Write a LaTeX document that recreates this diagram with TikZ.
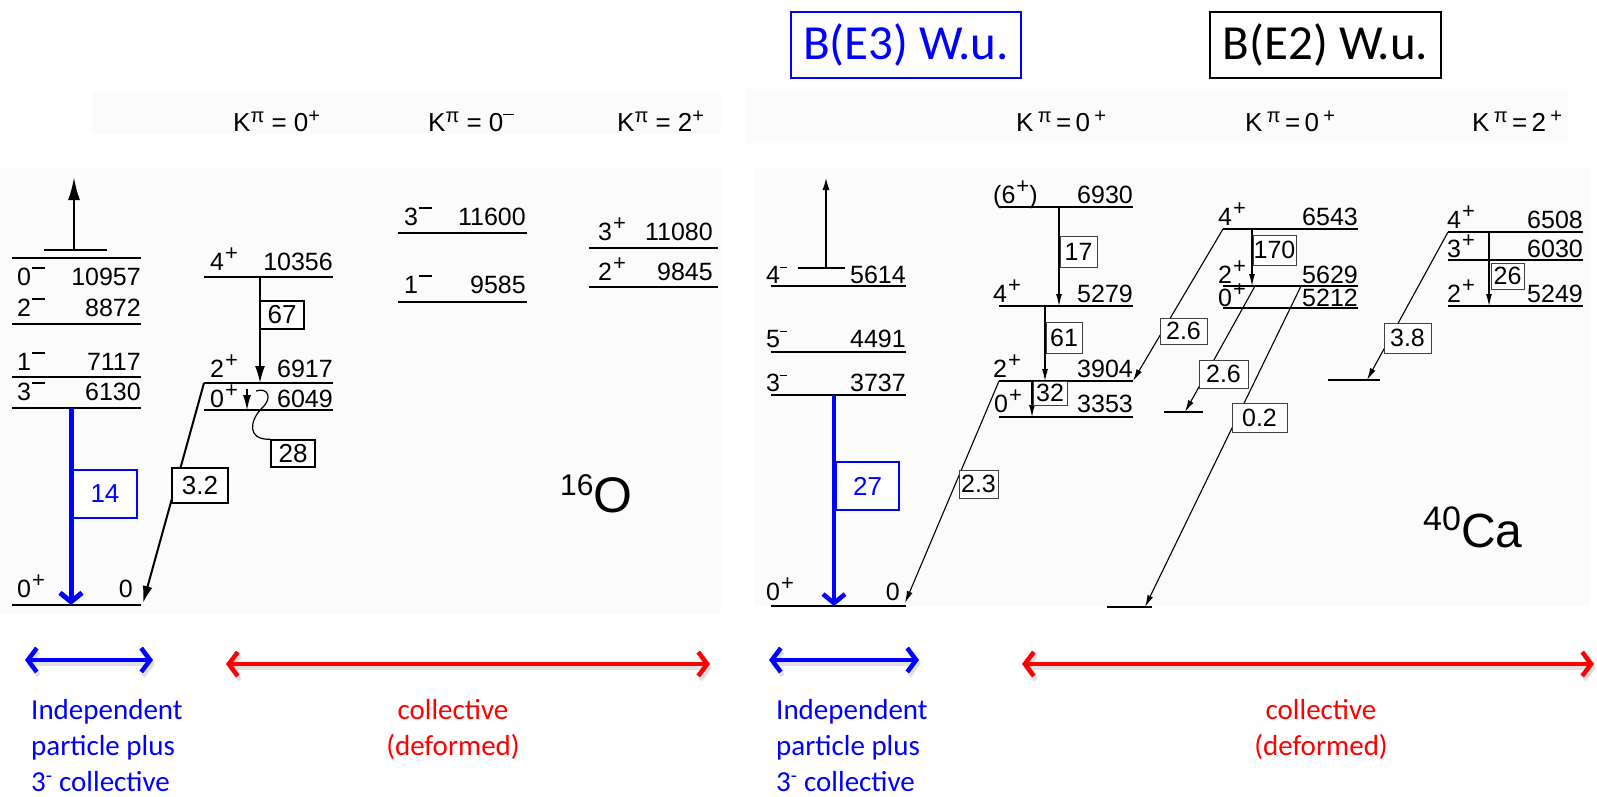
\documentclass[tikz,border=0pt]{standalone}
\usepackage{fontspec}
\setmainfont{Liberation Sans}
\newfontfamily\calib{Carlito}
\usetikzlibrary{arrows.meta,calc}
\definecolor{panel}{RGB}{251,251,251}
\newcommand\pl{\kern1pt\raisebox{10pt}{\fontsize{22}{22}\selectfont+}}
\newcommand\mn{\kern1pt\rule[16pt]{13pt}{1.6pt}}
\newcommand\smn{\rule[15pt]{7pt}{1.4pt}}
\newcommand\hsp[1]{\raisebox{9pt}{\fontsize{20}{20}\selectfont #1}}
\newcommand\Lv[5][lvlA]{\coordinate (#2-l) at (#3,#5);\coordinate (#2-r) at (#4,#5);\draw[#1] (#2-l) -- (#2-r);}
\newcommand\LL[4]{\node[lab,anchor=base west] (#1) at (#2,#3) {#4};}
\newcommand\LR[4]{\node[lab,anchor=base east] (#1) at (#2,#3) {#4};}
\tikzset{
 lvlA/.style={line width=2.6pt},
 lvlB/.style={line width=2pt},
 trA/.style={line width=2pt,-{Latex[length=17pt,width=10pt]}},
 trB/.style={line width=1.1pt,-{Latex[length=12pt,width=6pt]}},
 upA/.style={line width=2.4pt,-{Latex[length=23pt,width=12pt]}},
 upB/.style={line width=1.4pt,-{Latex[length=12pt,width=7pt]}},
 eth/.style={blue,line width=5pt,-{Straight Barb[length=9pt,width=22pt]}},
 lab/.style={font=\fontsize{25}{28}\selectfont,inner sep=0pt},
 hdr/.style={font=\fontsize{26}{28}\selectfont,inner sep=0pt},
 bxA/.style={draw,line width=1.5pt,fill=white,font=\fontsize{26}{28}\selectfont,inner sep=0pt},
 bxB/.style={draw=black!75,line width=1pt,fill=white,font=\fontsize{25}{28}\selectfont,inner sep=0pt},
 bxE/.style={draw=blue,line width=1.5pt,fill=white,text=blue,font=\fontsize{26}{28}\selectfont,inner sep=0pt},
 rangearr/.style={line width=4.5pt,{Straight Barb[length=9pt,width=24pt]}-{Straight Barb[length=9pt,width=24pt]}},
 shad/.style={rangearr,draw=black,opacity=0.12},
 bot/.style={font=\calib\fontsize{29}{36}\selectfont,align=left,inner sep=0pt},
}
\begin{document}
\begin{tikzpicture}[x=1pt,y=-1pt]
\useasboundingbox (0,0) rectangle (1597,796);
\fill[white] (0,0) rectangle (1597,796);
% panels
\fill[panel] (92,92) rectangle (721,134);
\fill[panel] (0,168) rectangle (721,614);
\fill[panel] (745,89) rectangle (1568,143);
\fill[panel] (755,168) rectangle (1590,606);

% header boxes
\node[draw=blue,line width=1.5pt,minimum width=230pt,minimum height=66pt,text=blue,font=\calib\fontsize{49}{50}\selectfont] (be3) at (906,45) {B(E3) W.u.};
\node[draw,line width=2pt,minimum width=231pt,minimum height=66pt,font=\calib\fontsize{49}{50}\selectfont] (be2) at (1325.5,45) {B(E2) W.u.};

% K headers
\node[hdr,anchor=base west] (ka1) at (233,131) {K\hsp{π} = 0\hsp{+}};
\node[hdr,anchor=base west] (ka2) at (428,131) {K\hsp{π} = 0\hsp{\rule[7pt]{11pt}{1.5pt}}};
\node[hdr,anchor=base west] (ka3) at (617,131) {K\hsp{π} = 2\hsp{+}};
\node[hdr,anchor=base west] (kb1) at (1016,131) {K\,\hsp{π}\,=\,0\,\hsp{+}};
\node[hdr,anchor=base west] (kb2) at (1245,131) {K\,\hsp{π}\,=\,0\,\hsp{+}};
\node[hdr,anchor=base west] (kb3) at (1472,131) {K\,\hsp{π}\,=\,2\,\hsp{+}};

% ---------- 16O levels
\Lv{g16}{12}{141}{605}
\Lv{s6130}{12}{141}{408}
\Lv{s7117}{12}{141}{377}
\Lv{s8872}{12}{141}{324}
\Lv{s10957}{12}{141}{258}
\Lv{bar16}{44}{107}{250}
\Lv{b10356}{204}{333}{277}
\Lv{b6917}{204}{333}{383}
\Lv{b6049}{204}{333}{410}
\Lv{c11600}{398}{527}{233}
\Lv{c9585}{398}{527}{302}
\Lv{d11080}{589}{718}{248}
\Lv{d9845}{589}{718}{287}

\LL{j10957}{17}{285}{0\mn} \LR{n10957}{141}{285}{10957}
\LL{j8872}{17}{316}{2\mn} \LR{n8872}{141}{316}{8872}
\LL{j7117}{17}{370}{1\mn} \LR{n7117}{141}{370}{7117}
\LL{j6130}{17}{400}{3\mn} \LR{n6130}{141}{400}{6130}
\LL{j0a}{17}{597}{0\pl} \LR{n0a}{133}{597}{0}
\LL{j10356}{210}{270}{4\pl} \LR{n10356}{333}{270}{10356}
\LL{j6917}{210}{377}{2\pl} \LR{n6917}{333}{377}{6917}
\LL{j6049}{210}{407}{0\pl} \LR{n6049}{333}{407}{6049}
\LL{j11600}{404}{225}{3\mn} \LR{n11600}{526}{225}{11600}
\LL{j9585}{404}{293}{1\mn} \LR{n9585}{526}{293}{9585}
\LL{j11080}{598}{240}{3\pl} \LR{n11080}{713}{240}{11080}
\LL{j9845}{598}{280}{2\pl} \LR{n9845}{713}{280}{9845}

% 16O transitions
\coordinate (up16) at (74,177);
\draw[upA] (74,0 |- bar16-l) -- (up16);
\draw[trA] (260,0 |- b10356-l) -- (260,0 |- b6917-l);
\draw[trA] (b6917-l) -- ($(g16-r)+(2,-2)$);
\draw[eth] (71,0 |- s6130-l) -- (71,0 |- g16-l);
\coordinate (sa) at (247,389);
\draw[line width=1.2pt,-{Latex[length=15pt,width=8pt]}] (sa) -- (247,0 |- b6049-l);
\node[bxA,minimum width=44pt,minimum height=28pt] (x67) at (282,315) {67};
\node[bxA,minimum width=44pt,minimum height=27pt] (x28) at (293,453.5) {28};
\node[bxA,minimum width=56pt,minimum height=35pt] (x32) at (200,485.5) {3.2};
\node[bxE,minimum width=64pt,minimum height=48pt] (x14) at (105,494) {14};
\draw[line width=1.2pt] (256,391) .. controls (268,387) and (273,398) .. (262,408) .. controls (250,420) and (246,440) .. (x28.north west);

\node[anchor=base west,inner sep=0pt] (o16) at (560,512) {\raisebox{17pt}{\fontsize{30}{30}\selectfont 16}\fontsize{50}{52}\selectfont O};

% ---------- 40Ca levels
\Lv[lvlB]{g40}{771}{906}{606}
\Lv[lvlB]{s3737}{771}{906}{395}
\Lv[lvlB]{s4491}{771}{906}{352}
\Lv[lvlB]{s5614}{771}{906}{286}
\Lv[line width=1.5pt]{bar40}{798}{845}{268}
\Lv[lvlB]{e6930}{999}{1133}{207}
\Lv[lvlB]{e5279}{999}{1133}{306}
\Lv[lvlB]{e3904}{999}{1133}{381}
\Lv[lvlB]{e3353}{999}{1133}{417}
\Lv[lvlB]{f6543}{1223}{1358}{229}
\Lv[lvlB]{f5629}{1223}{1358}{286}
\Lv[lvlB]{f5212}{1223}{1358}{308}
\Lv[lvlB]{h6508}{1448}{1583}{232}
\Lv[lvlB]{h6030}{1448}{1583}{260}
\Lv[lvlB]{h5249}{1448}{1583}{306}
\Lv[lvlB]{t1}{1164}{1203}{412}
\Lv[lvlB]{t2}{1107}{1152}{607}
\Lv[lvlB]{t3}{1328}{1380}{380}

\LL{k5614}{766}{283}{4\smn} \LR{m5614}{906}{283}{5614}
\LL{k4491}{766}{347}{5\smn} \LR{m4491}{906}{347}{4491}
\LL{k3737}{766}{391}{3\smn} \LR{m3737}{906}{391}{3737}
\LL{k0b}{766}{600}{0\pl} \LR{m0b}{900}{600}{0}
\LL{k6930}{993}{203}{(6\pl)} \LR{m6930}{1133}{203}{6930}
\LL{k5279}{993}{302}{4\pl} \LR{m5279}{1133}{302}{5279}
\LL{k3904}{993}{377}{2\pl} \LR{m3904}{1133}{377}{3904}
\LL{k3353}{994}{412}{0\pl} \LR{m3353}{1133}{412}{3353}
\LL{k6543}{1218}{225}{4\pl} \LR{m6543}{1358}{225}{6543}
\LL{k5629}{1218}{283}{2\pl} \LR{m5629}{1358}{283}{5629}
\LL{k5212}{1218}{306}{0\pl} \LR{m5212}{1358}{306}{5212}
\LL{k6508}{1447}{228}{4\pl} \LR{m6508}{1583}{228}{6508}
\LL{k6030}{1447}{257}{3\pl} \LR{m6030}{1583}{257}{6030}
\LL{k5249}{1447}{302}{2\pl} \LR{m5249}{1583}{302}{5249}

% 40Ca transitions
\coordinate (up40) at (826,178);
\draw[upB] (826,0 |- bar40-l) -- (up40);
\draw[eth,line width=4.5pt] (834,0 |- s3737-l) -- (834,0 |- g40-l);
\draw[trB] (e3904-l) -- ($(g40-r)+(-1,-3)$);
\draw[trB] (1059,0 |- e6930-l) -- (1059,0 |- e5279-l);
\draw[trB] (1045,0 |- e5279-l) -- (1045,0 |- e3904-l);
\draw[trB] (1032,0 |- e3904-l) -- (1032,0 |- e3353-l);
\draw[trB] (1252,0 |- f6543-l) -- (1252,0 |- f5629-l);
\draw[trB] (f6543-l) -- (e3904-r);
\draw[trB] (1255,0 |- f5629-l) -- (1185,0 |- t1-l);
\draw[trB] (1301,0 |- f5629-l) -- (1145,0 |- t2-l);
\draw[trB] (1489,0 |- h6508-l) -- (1489,0 |- h5249-l);
\draw[trB] (h6508-l) -- (1367,0 |- t3-l);

\node[bxE,minimum width=63pt,minimum height=48pt] (x27) at (867.5,486) {27};
\node[bxB,minimum width=39pt,minimum height=28pt] (x23) at (978.5,484) {2.3};
\node[bxB,minimum width=37pt,minimum height=31pt] (x17) at (1078.5,251.5) {17};
\node[bxB,minimum width=36pt,minimum height=31pt] (x61) at (1064,337.5) {61};
\node[bxB,minimum width=34pt,minimum height=24pt] (x32b) at (1050,393) {32};
\node[bxB,minimum width=43pt,minimum height=30pt] (x170) at (1274.5,250) {170};
\node[bxB,minimum width=47pt,minimum height=26pt] (x26a) at (1183.5,331) {2.6};
\node[bxB,minimum width=49pt,minimum height=28pt] (x26b) at (1223.5,374) {2.6};
\node[bxB,minimum width=55pt,minimum height=29pt] (x02) at (1259.5,417.5) {0.2};
\node[bxB,minimum width=33pt,minimum height=26pt] (x26) at (1507.5,276) {26};
\node[bxB,minimum width=47pt,minimum height=30pt] (x38) at (1407.5,338) {3.8};

\node[anchor=base west,inner sep=0pt] (ca40) at (1423,547) {\raisebox{17pt}{\fontsize{34}{34}\selectfont 40}\fontsize{48}{50}\selectfont Ca};

% ---------- bottom ranges
\coordinate (bl1) at (25,660); \coordinate (bl2) at (153,660);
\coordinate (rl1) at (226,664); \coordinate (rl2) at (710,664);
\coordinate (br1) at (769,660); \coordinate (br2) at (919,660);
\coordinate (rr1) at (1022,664); \coordinate (rr2) at (1594,664);
\draw[shad] ($(bl1)+(2,4)$) -- ($(bl2)+(2,4)$);
\draw[shad] ($(rl1)+(2,4)$) -- ($(rl2)+(2,4)$);
\draw[shad] ($(br1)+(2,4)$) -- ($(br2)+(2,4)$);
\draw[shad] ($(rr1)+(2,4)$) -- ($(rr2)+(2,4)$);
\draw[rangearr,blue] (bl1) -- (bl2);
\draw[rangearr,red] (rl1) -- (rl2);
\draw[rangearr,blue] (br1) -- (br2);
\draw[rangearr,red] (rr1) -- (rr2);

\node[bot,blue,anchor=north west] (ipl) at (31,699) {Independent\\particle plus\\3\textsuperscript{-} collective};
\node[bot,red,anchor=north,align=center] (cdl) at (453,699) {collective\\(deformed)};
\node[bot,blue,anchor=north west] (ipr) at (776,699) {Independent\\particle plus\\3\textsuperscript{-} collective};
\node[bot,red,anchor=north,align=center] (cdr) at (1321,699) {collective\\(deformed)};
\end{tikzpicture}
\end{document}
